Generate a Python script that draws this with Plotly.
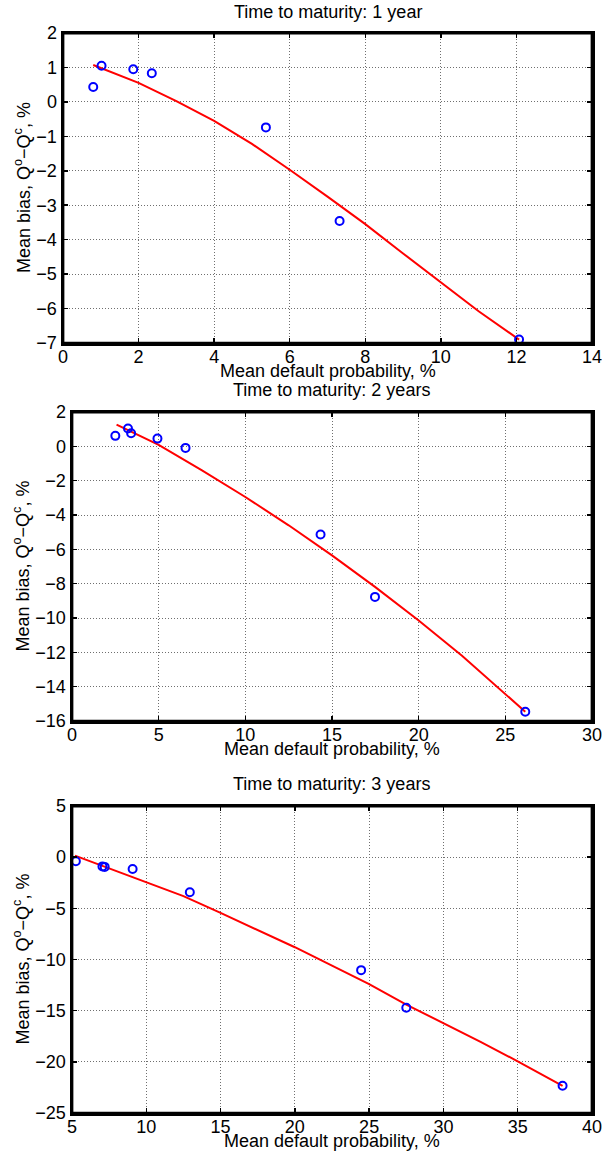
import plotly.graph_objects as go

# ---------------- data ----------------
titles = ["Time to maturity: 1 year", "Time to maturity: 2 years", "Time to maturity: 3 years"]
x_label = "Mean default probability, %"
y_label = "Mean bias, Q<sup>o</sup>\u2212Q<sup>c</sup>, %"

# 1 year
pts1_x = [0.80, 1.02, 1.86, 2.35, 5.37, 7.32, 12.07]
pts1_y = [0.43, 1.05, 0.95, 0.83, -0.74, -3.46, -6.90]
fit1_x = [0.80, 2.0, 3.0, 4.0, 5.0, 6.0, 7.0, 8.0, 9.0, 10.0, 11.0, 12.07]
fit1_y = [1.07, 0.55, 0.02, -0.55, -1.22, -1.97, -2.75, -3.55, -4.40, -5.25, -6.08, -6.90]

# 2 years
pts2_x = [2.50, 3.23, 3.41, 4.93, 6.55, 14.34, 17.48, 26.15]
pts2_y = [0.61, 1.04, 0.76, 0.45, -0.09, -5.14, -8.77, -15.46]
fit2_x = [2.57, 5.0, 7.5, 10.0, 12.5, 15.0, 17.5, 20.0, 22.5, 26.15]
fit2_y = [1.27, 0.08, -1.40, -2.95, -4.60, -6.35, -8.20, -10.15, -12.20, -15.46]

# 3 years
pts3_x = [5.26, 7.05, 7.20, 9.08, 12.93, 24.46, 27.50, 38.02]
pts3_y = [-0.40, -0.90, -0.95, -1.15, -3.43, -11.04, -14.72, -22.34]
fit3_x = [5.2, 7.5, 10.0, 12.5, 15.0, 17.5, 20.0, 22.5, 25.0, 27.5, 30.0, 32.5, 35.0, 38.02]
fit3_y = [0.15, -1.10, -2.45, -3.80, -5.45, -7.10, -8.80, -10.60, -12.40, -14.40, -16.20, -18.05, -19.95, -22.34]

x_ranges = [[0, 14], [0, 30], [5, 40]]
x_dticks = [2, 5, 5]
y_ranges = [[-7, 2], [-16, 2], [-25, 5]]
y_dticks = [1, 2, 5]

# ---------------- layout geometry (pixels) ----------------
W, H = 602, 1157
FONT = "Liberation Sans, Arial, Helvetica, sans-serif"
FS = 18
panels_px = [  # left, right, top, bottom
    (63, 592, 33, 343),
    (72, 592, 412, 721),
    (72, 592, 806, 1113),
]
title_y_px = [12, 390, 784]
xlabel_gap_px = 28   # axis bottom -> x-label centre
ylabel_x_px = 22

fig = go.Figure()
series = [(pts1_x, pts1_y, fit1_x, fit1_y),
          (pts2_x, pts2_y, fit2_x, fit2_y),
          (pts3_x, pts3_y, fit3_x, fit3_y)]

layout_axes = {}
annotations = []
shapes = []
tfont = dict(family=FONT, size=FS, color="black")
for i, ((px, py, fx, fy), (l, r, t, b)) in enumerate(zip(series, panels_px)):
    n = i + 1
    xa = "x" if n == 1 else f"x{n}"
    ya = "y" if n == 1 else f"y{n}"
    fig.add_trace(go.Scatter(x=fx, y=fy, mode="lines",
                             line=dict(color="#ff0000", width=2),
                             xaxis=xa, yaxis=ya, showlegend=False, hoverinfo="skip"))
    fig.add_trace(go.Scatter(x=px, y=py, mode="markers",
                             marker=dict(symbol="circle-open", size=8, color="#0000ff",
                                         line=dict(width=2, color="#0000ff")),
                             xaxis=xa, yaxis=ya, showlegend=False, hoverinfo="skip"))
    common = dict(showline=True, linecolor="#000000", linewidth=2.5, mirror="ticks",
                  ticks="inside", ticklen=5, tickwidth=1.5, tickcolor="#000000",
                  showgrid=True, gridcolor="#6f6f6f", griddash="1px,2px", gridwidth=1,
                  zeroline=False, automargin=False, tickfont=tfont,
                  ticklabeloverflow="allow")
    layout_axes["xaxis" if n == 1 else f"xaxis{n}"] = dict(
        common, domain=[l / W, r / W], anchor=ya, range=x_ranges[i], dtick=x_dticks[i],
        tick0=x_ranges[i][0], ticklabelstandoff=-4)
    layout_axes["yaxis" if n == 1 else f"yaxis{n}"] = dict(
        common, domain=[1 - b / H, 1 - t / H], anchor=xa, range=y_ranges[i], dtick=y_dticks[i])
    # frame (box on), in paper coordinates of the panel edges
    shapes.append(dict(type="rect", xref="paper", yref="paper",
                       x0=l / W, x1=r / W, y0=1 - b / H, y1=1 - t / H,
                       line=dict(color="#000000", width=2.75), fillcolor="rgba(0,0,0,0)",
                       layer="above"))
    # title
    annotations.append(dict(text=titles[i], x=(l + r) / 2 / W, y=1 - title_y_px[i] / H,
                            xref="paper", yref="paper", xanchor="center", yanchor="middle",
                            showarrow=False, font=tfont))
    # x label
    annotations.append(dict(text=x_label, x=(l + r) / 2 / W, y=1 - (b + xlabel_gap_px) / H,
                            xref="paper", yref="paper", xanchor="center", yanchor="middle",
                            showarrow=False, font=tfont))
    # y label
    annotations.append(dict(text=y_label, x=ylabel_x_px / W, y=1 - (t + b) / 2 / H,
                            xref="paper", yref="paper", xanchor="center", yanchor="middle",
                            textangle=-90, showarrow=False, font=tfont))

fig.update_layout(template="none", width=W, height=H,
                  margin=dict(l=0, r=0, t=0, b=0, pad=0, autoexpand=False),
                  paper_bgcolor="white", plot_bgcolor="white", hovermode=False,
                  font=tfont, annotations=annotations, shapes=shapes, **layout_axes)

fig.write_html("out.html", config={"displayModeBar": False, "staticPlot": True},
               post_script="document.body.style.margin='0px';document.body.style.padding='0px';")
